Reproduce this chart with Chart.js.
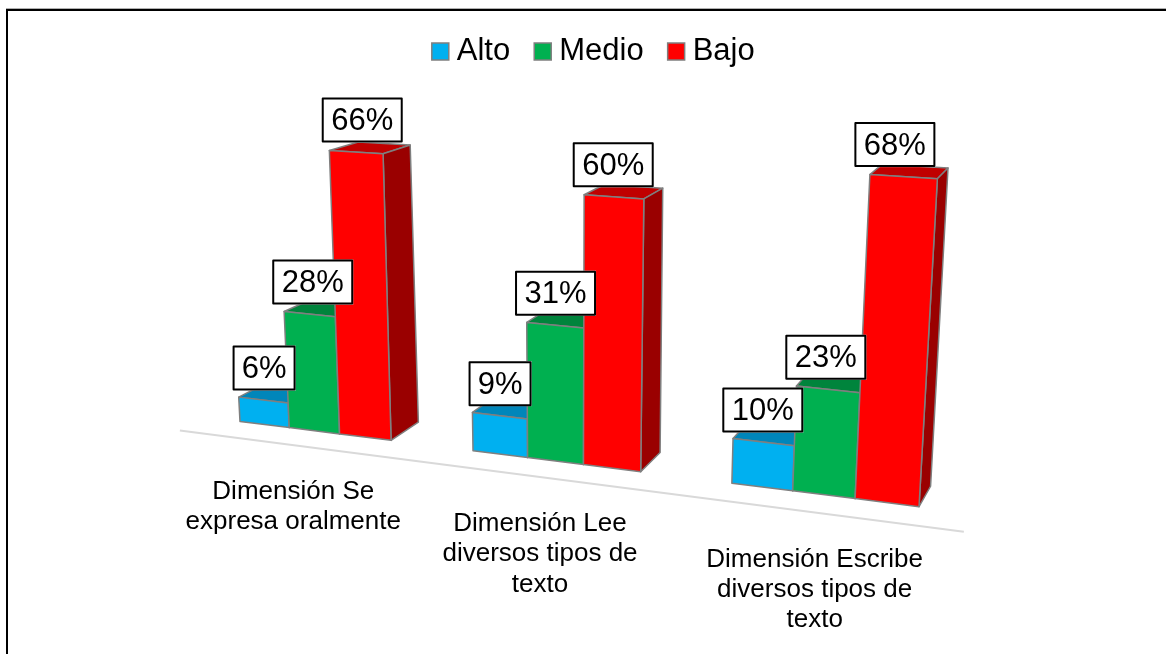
<!DOCTYPE html>
<html><head><meta charset="utf-8"><style>html,body{margin:0;padding:0;background:#fff}canvas{display:block}</style>
<script src="https://cdn.jsdelivr.net/npm/chart.js@4/dist/chart.umd.min.js"></script></head>
<body><canvas id="c" width="1166" height="654"></canvas>
<script>
const categories = [['Dimensión Se','expresa oralmente'],['Dimensión Lee','diversos tipos de','texto'],['Dimensión Escribe','diversos tipos de','texto']];
const seriesNames = ['Alto','Medio','Bajo'];
const alto = [6,9,10];
const medio = [28,31,23];
const bajo = [66,60,68];
const frontColors = ['#00B0F0','#00B050','#FF0000'];
const topColors = ['#0086BA','#00843C','#C00000'];
const sideColors = ['#006E96','#006A30','#9A0000'];
const edge = '#7F7F7F';
const FONT = '"Liberation Sans", Arial, sans-serif';

// Camera of the 3-D view: plane (category position, value fraction) -> page
const FRONT = [207.6822,-35.7288,202.6547,6.7208,-425.99916,416.7106,-0.04946,-0.06286];
const BACK = [197.8946,-37.6686,236.4297,5.9284,-411.23045,399.40663,-0.05092,-0.06290];
function proj(h,u,v){const w=h[6]*u+h[7]*v+1;return [(h[0]*u+h[1]*v+h[2])/w,(h[3]*u+h[4]*v+h[5])/w];}
function quad(ctx,pts,fill){
  ctx.beginPath();pts.forEach((p,i)=>i?ctx.lineTo(p[0],p[1]):ctx.moveTo(p[0],p[1]));ctx.closePath();
  ctx.fillStyle=fill;ctx.fill();ctx.strokeStyle=edge;ctx.lineWidth=1.5;ctx.lineJoin='round';ctx.stroke();
}
const perspective = {
  id:'perspective',
  beforeDraw(chart){
    const c=chart.ctx;c.save();c.fillStyle='#fff';c.fillRect(0,0,chart.width,chart.height);
    c.fillStyle='#B0B0B0';c.fillRect(6,8,chart.width-6,1);
    c.fillStyle='#000';c.fillRect(6,9,chart.width-6,2);c.fillRect(6,9,2,chart.height-9);c.restore();
  },
  beforeDatasetsDraw(chart){
    const c=chart.ctx,xs=chart.scales.x,ys=chart.scales.y,n=categories.length;
    const toU=px=>(px-xs.left)/xs.width*n;
    const toV=py=>ys.getValueForPixel(py)/100;
    c.save();
    // floor line and category labels
    const a=proj(FRONT,-0.11,-0.042),b=proj(FRONT,n-0.015,-0.042);
    c.strokeStyle='#D9D9D9';c.lineWidth=2;c.beginPath();c.moveTo(a[0],a[1]);c.lineTo(b[0],b[1]);c.stroke();
    c.fillStyle='#000';c.font='26px '+FONT;c.textAlign='center';c.textBaseline='alphabetic';
    categories.forEach((lines,i)=>{
      const p=proj(FRONT,toU(xs.getPixelForValue(i)),0);
      const x=p[0]*1.0235-28.4,y=p[1]+68+(p[0]-314)*0.008;
      lines.forEach((t,k)=>c.fillText(t,x,y+k*30.3));
    });
    // bars
    const metas=chart.data.datasets.map((d,i)=>chart.getDatasetMeta(i));
    const labels=[];
    for(let g=0;g<n;g++){
      metas.forEach((m,s)=>{
        const el=m.data[g].getProps(['x','y','base','width'],true);
        const u0=toU(el.x-el.width/2),u1=toU(el.x+el.width/2),v1=toV(el.y),v0=toV(el.base);
        quad(c,[proj(FRONT,u0,v1),proj(FRONT,u1,v1),proj(BACK,u1,v1),proj(BACK,u0,v1)],topColors[s]);
        quad(c,[proj(FRONT,u1,v0),proj(FRONT,u1,v1),proj(BACK,u1,v1),proj(BACK,u1,v0)],sideColors[s]);
        quad(c,[proj(FRONT,u0,v0),proj(FRONT,u1,v0),proj(FRONT,u1,v1),proj(FRONT,u0,v1)],frontColors[s]);
        const t=proj(FRONT,(u0+u1)/2,v1);
        labels.push({x:t[0]-(t[0]-590)*v1*0.04,y:t[1]-32,text:chart.data.datasets[s].data[g]+'%'});
      });
    }
    // value labels
    c.font='31px '+FONT;c.textBaseline='middle';
    labels.forEach(l=>{
      const w=l.text.length>2?81:63,h=45;
      c.fillStyle='#fff';c.fillRect(l.x-w/2,l.y-h/2,w,h);
      c.strokeStyle='#000';c.lineWidth=2;c.strokeRect(l.x-w/2+1,l.y-h/2+1,w-2,h-2);
      c.fillStyle='#000';c.fillText(l.text,l.x,l.y+1.5);
    });
    c.restore();
    return false;
  }
};
new Chart(document.getElementById('c'),{
  type:'bar',
  data:{labels:categories,datasets:[alto,medio,bajo].map((d,i)=>({
    label:seriesNames[i],data:d,backgroundColor:frontColors[i],borderColor:edge,borderWidth:1.5,
    categoryPercentage:0.66,barPercentage:1
  }))},
  options:{
    responsive:false,animation:false,
    layout:{padding:{left:28,top:4.5}},
    events:[],
    scales:{x:{display:false},y:{display:false,min:0,max:100}},
    plugins:{
      tooltip:{enabled:false},
      legend:{position:'top',align:'center',labels:{
        usePointStyle:true,pointStyle:'rect',boxWidth:2,boxHeight:17,padding:31.5,color:'#000',
        font:{family:FONT,size:31}
      }}
    }
  },
  plugins:[perspective]
});
</script></body></html>
